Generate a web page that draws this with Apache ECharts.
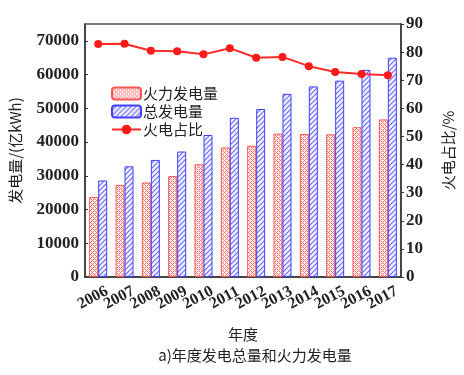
<!DOCTYPE html>
<html>
<head>
<meta charset="utf-8">
<script src="https://cdn.jsdelivr.net/npm/echarts@6/dist/echarts.min.js"></script>
<style>
html,body{margin:0;padding:0;background:#fff;}
#c{width:464px;height:375px;}
</style>
</head>
<body>
<div id="c"></div>
<script>
var years = ['2006','2007','2008','2009','2010','2011','2012','2013','2014','2015','2016','2017'];
var thermal = [23700, 27300, 28000, 29900, 33400, 38400, 38900, 42500, 42400, 42300, 44400, 46700];
var total = [28600, 32800, 34700, 37200, 42100, 47200, 49800, 54300, 56500, 58200, 61400, 65000];
var share = [82.9, 83.0, 80.5, 80.3, 79.2, 81.4, 78.0, 78.3, 75.0, 72.9, 72.2, 71.8];
var leftTicks = [0, 10000, 20000, 30000, 40000, 50000, 60000, 70000];
var rightTicks = [0, 10, 20, 30, 40, 50, 60, 70, 80, 90];

function makeRedPattern(){
  var c = document.createElement('canvas'); c.width = 4; c.height = 4;
  var g = c.getContext('2d');
  g.fillStyle = '#ffffff'; g.fillRect(0,0,4,4);
  g.fillStyle = 'rgba(255,80,80,0.8)';
  for (var x=0;x<4;x++) for (var y=0;y<4;y++){
    if ((x+y)%4===0 || ((x-y)+8)%4===0) g.fillRect(x,y,1,1);
  }
  return {image:c, repeat:'repeat'};
}
function makeBluePattern(){
  var c = document.createElement('canvas'); c.width = 5; c.height = 5;
  var g = c.getContext('2d');
  g.fillStyle = '#f2f2ff'; g.fillRect(0,0,5,5);
  g.strokeStyle = 'rgba(80,80,255,0.85)'; g.lineWidth = 1.1;
  g.beginPath();
  g.moveTo(-1,6); g.lineTo(6,-1);
  g.moveTo(-6,6); g.lineTo(1,-1);
  g.moveTo(4,6); g.lineTo(11,-1);
  g.stroke();
  return {image:c, repeat:'repeat'};
}

var serif = '"Liberation Serif","Times New Roman",serif';
var cjk = '"Noto Sans CJK SC","Liberation Serif",serif';
var chart = echarts.init(document.getElementById('c'), null, {renderer:'canvas'});
chart.setOption({
  animation:false,
  backgroundColor:'#fff',
  title:{
    text:'a)年度发电总量和火力发电量',
    left:250, top:343, textAlign:'center',
    textStyle:{fontFamily:cjk, fontSize:15, fontWeight:'normal', color:'#222'}
  },
  grid:{left:82, right:62, top:24, bottom:98, show:true, borderColor:'#555', borderWidth:1.5, backgroundColor:'transparent'},
  legend:{
    orient:'vertical', left:106, top:81, itemWidth:29, itemHeight:12, itemGap:3,
    textStyle:{fontFamily:cjk, fontSize:15, color:'#222', padding:[0,0,0,-3]},
    data:['火力发电量','总发电量','火电占比']
  },
  xAxis:{
    type:'category', data:years,
    name:'年度', nameLocation:'middle', nameGap:50,
    nameTextStyle:{fontFamily:cjk, fontSize:15, color:'#222'},
    axisLine:{lineStyle:{color:'#333', width:1.5}},
    axisTick:{show:false},
    axisLabel:{rotate:28, align:'center', verticalAlign:'middle', padding:[0,12,0,0], margin:18,
      fontFamily:serif, fontSize:16, fontWeight:'bold', color:'#222', interval:0}
  },
  yAxis:[{
    type:'value', min:0, max:75000, interval:10000,
    name:'发电量/(亿kWh)', nameLocation:'middle', nameGap:62, nameRotate:90,
    nameTextStyle:{fontFamily:cjk, fontSize:15, color:'#222'},
    axisLine:{show:true, lineStyle:{color:'#333', width:1.5}},
    axisTick:{show:true, inside:true, length:3, lineStyle:{color:'#333'}},
    splitLine:{show:false},
    axisLabel:{fontFamily:serif, fontSize:17, fontWeight:'bold', color:'#222', margin:6,
      showMaxLabel:false,
      formatter:function(v){return leftTicks.indexOf(v)>=0 ? String(v) : '';}}
  },{
    type:'value', min:0, max:90, interval:10,
    name:'火电占比/%', nameLocation:'middle', nameGap:40, nameRotate:90,
    nameTextStyle:{fontFamily:cjk, fontSize:15, color:'#222'},
    axisLine:{show:true, lineStyle:{color:'#333', width:1.5}},
    axisTick:{show:true, inside:false, length:3, lineStyle:{color:'#333'}},
    splitLine:{show:false},
    axisLabel:{fontFamily:serif, fontSize:17, fontWeight:'bold', color:'#222', margin:5,
      formatter:function(v){return rightTicks.indexOf(v)>=0 ? String(v) : '';}}
  }],
  series:[{
    name:'火力发电量', type:'bar', data:thermal, barWidth:9, barGap:'0%',
    itemStyle:{color:makeRedPattern(), borderColor:'#ff5555', borderWidth:1}
  },{
    name:'总发电量', type:'bar', data:total, barWidth:9, barGap:'0%',
    itemStyle:{color:makeBluePattern(), borderColor:'#4040ff', borderWidth:1}
  },{
    name:'火电占比', type:'line', yAxisIndex:1, data:share, z:5,
    symbol:'circle', symbolSize:8, color:'#ff1a1a',
    itemStyle:{color:'#ff1a1a'},
    lineStyle:{color:'#ff2a2a', width:2}
  }]
});
</script>
</body>
</html>
